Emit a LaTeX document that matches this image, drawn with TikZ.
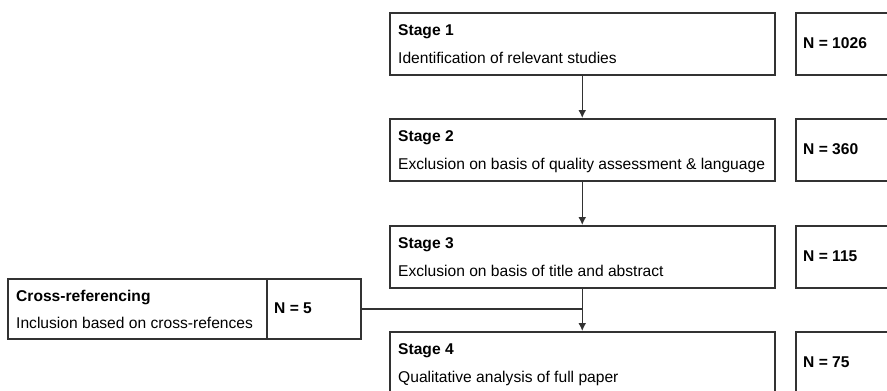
\documentclass[tikz,border=0pt]{standalone}
\usepackage{fontspec}
\setmainfont{Liberation Sans}
\usetikzlibrary{arrows.meta}
\definecolor{boxline}{RGB}{50,50,50}
\tikzset{
  stagebox/.style={draw=boxline,line width=1.5pt,rectangle,anchor=north west,minimum width=385pt,minimum height=62pt,inner sep=0pt},
  countbox/.style={draw=boxline,line width=1.5pt,rectangle,anchor=north west,minimum width=110pt,minimum height=62pt,inner sep=0pt},
  head/.style={anchor=base west,inner sep=0pt,font=\fontsize{15.6}{18}\selectfont\bfseries},
  body/.style={anchor=base west,inner sep=0pt,font=\fontsize{15.6}{18}\selectfont},
  count/.style={anchor=west,inner sep=0pt,font=\fontsize{15.6}{18}\selectfont\bfseries},
  arr/.style={draw=boxline,line width=1.5pt,-{Latex[length=8pt,width=8pt]}}
}
\begin{document}
\begin{tikzpicture}[x=1pt,y=-1pt]
\useasboundingbox (0,0) rectangle (887,391);
\clip (0,0) rectangle (887,391);
% stages
\node[stagebox] (s1) at (389,12) {};
\node[stagebox] (s2) at (389,118) {};
\node[stagebox] (s3) at (389,225) {};
\node[stagebox] (s4) at (389,331) {};
\node[head] (s1a) at (398,35) {Stage 1};
\node[body] (s1b) at (398,63) {Identification of relevant studies};
\node[head] (s2a) at (398,141) {Stage 2};
\node[body] (s2b) at (398,169) {Exclusion on basis of quality assessment \& language};
\node[head] (s3a) at (398,248) {Stage 3};
\node[body] (s3b) at (398,276) {Exclusion on basis of title and abstract};
\node[head] (s4a) at (398,354) {Stage 4};
\node[body] (s4b) at (398,382) {Qualitative analysis of full paper};
% counts
\node[countbox] (n1) at (795,12) {};
\node[countbox] (n2) at (795,118) {};
\node[countbox] (n3) at (795,225) {};
\node[countbox] (n4) at (795,331) {};
\node[count] (n1t) at (803,43) {N = 1026};
\node[count] (n2t) at (803,149) {N = 360};
\node[count] (n3t) at (803,256) {N = 115};
\node[count] (n4t) at (803,362) {N = 75};
% cross-referencing
\node[draw=boxline,line width=1.5pt,rectangle,anchor=north west,minimum width=259pt,minimum height=60pt,inner sep=0pt] (cr) at (7,278) {};
\node[draw=boxline,line width=1.5pt,rectangle,anchor=north west,minimum width=94pt,minimum height=60pt,inner sep=0pt] (cn) at (266,278) {};
\node[head] (cra) at (16,301) {Cross-referencing};
\node[body] (crb) at (16,328) {Inclusion based on cross-refences};
\node[count] (cnt) at (274,308) {N = 5};
\coordinate (join) at (s3.south |- cn.east);
\draw[arr] (s1.south) -- (s2.north);
\draw[arr] (s2.south) -- (s3.north);
\draw[arr] (s3.south) -- (s4.north);
\draw[draw=boxline,line width=1.5pt] (cn.east) -- (join);
\end{tikzpicture}
\end{document}
